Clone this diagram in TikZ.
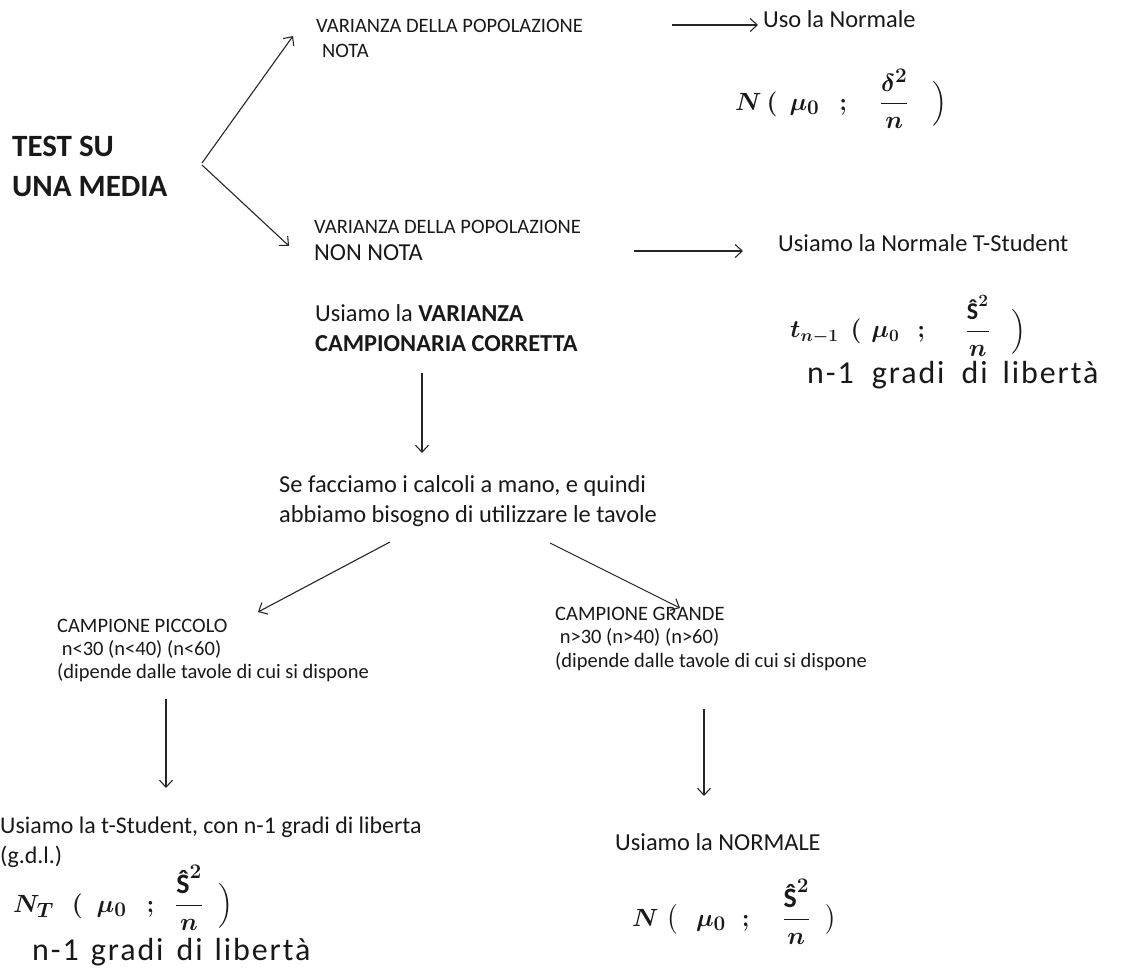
\documentclass[tikz,border=0pt]{standalone}
\usepackage{fontspec}
\setmainfont{Carlito}
\usepackage{amsmath}
\usetikzlibrary{arrows.meta}
\newcommand{\Shat}{\text{\bfseries Ŝ}}
\begin{document}
\begin{tikzpicture}[x=1pt,y=-1pt,
  every node/.style={inner sep=0pt, text=black!90},
  txt/.style={anchor=base west},
  bigt/.style={txt, font=\fontsize{31}{36}\selectfont\bfseries},
  capt/.style={txt, font=\fontsize{20.5}{24}\selectfont},
  bodyt/.style={txt, font=\fontsize{24.4}{28}\selectfont},
  hand/.style={anchor=west, font=\fontsize{28}{32}\selectfont\boldmath},
  handt/.style={txt, font=\fontsize{32}{36}\selectfont\addfontfeature{LetterSpace=6}},
  arr/.style={draw=black!85, line width=1.1pt, -{Straight Barb[length=7pt,width=13pt,line width=1.1pt]}}]
\useasboundingbox (0,0) rectangle (1124,973);

% left title
\node[bigt] (t1) at (12,157) {TEST SU};
\node[bigt] (t2) at (12,197) {UNA MEDIA};

% upper branch
\node[capt] (v1) at (316,33) {VARIANZA DELLA POPOLAZIONE};
\node[capt] (v1b) at (322,58) {NOTA};
\node[bodyt] (uso) at (763,28) {Uso la Normale};
\node[hand] (f1) at (735,99) {$N\hspace{5pt}(\hspace{12pt}\mu_0\hspace{20pt};\hspace{28pt}\dfrac{\delta^{2}}{n}\hspace{24pt}\Big)$};

% lower branch
\node[capt] (v2) at (314,234) {VARIANZA DELLA POPOLAZIONE};
\node[bodyt] (v2b) at (314,261) {NON NOTA};
\node[bodyt] (ts) at (778,252) {Usiamo la Normale T-Student};
\node[hand, font=\fontsize{24}{28}\selectfont\boldmath] (f2) at (790,326) {$t_{n-1}\hspace{12pt}(\hspace{10pt}\mu_0\hspace{18pt};\hspace{36pt}\dfrac{\Shat^{2}}{n}\hspace{22pt}\Big)$};
\node[handt] (g1) at (807,384) {n-1\hspace{18pt}gradi\hspace{17pt}di\hspace{15pt}libertà};

\node[bodyt] (u1) at (315,322) {Usiamo la \textbf{VARIANZA}};
\node[bodyt] (u2) at (315,352) {\textbf{CAMPIONARIA CORRETTA}};

\node[bodyt] (s1) at (279,492) {Se facciamo i calcoli a mano, e quindi};
\node[bodyt] (s2) at (279,522) {abbiamo bisogno di utilizzare le tavole};

% small sample
\node[capt] (p1) at (57,632) {CAMPIONE PICCOLO};
\node[capt] (p2) at (57,655) {\ n<30 (n<40) (n<60)};
\node[capt] (p3) at (57,678) {(dipende dalle tavole di cui si dispone};

% large sample
\node[capt] (q1) at (555,620) {CAMPIONE GRANDE};
\node[capt] (q2) at (555,643) {\ n>30 (n>40) (n>60)};
\node[capt] (q3) at (555,667) {(dipende dalle tavole di cui si dispone};

% results
\node[txt, font=\fontsize{23.9}{28}\selectfont] (r1) at (0,833) {Usiamo la t-Student, con n-1 gradi di liberta};
\node[txt, font=\fontsize{23.9}{28}\selectfont] (r2) at (0,863) {(g.d.l.)};
\node[hand] (f3) at (13,898) {$N_T\hspace{18pt}(\hspace{14pt}\mu_0\hspace{20pt};\hspace{16pt}\dfrac{\Shat^{2}}{n}\hspace{16pt}\Big)$};
\node[handt] (g2) at (32,960) {n-1\hspace{12pt}gradi\hspace{13pt}di\hspace{12pt}libertà};

\node[bodyt] (r3) at (615,850) {Usiamo la NORMALE};
\node[hand] (f4) at (632,912) {$N\hspace{8pt}\big(\hspace{18pt}\mu_0\hspace{16pt};\hspace{28pt}\dfrac{\Shat^{2}}{n}\hspace{15pt}\big)$};

% arrow end points
\coordinate (a1s) at (202,163); \coordinate (a1e) at (293,36);
\coordinate (a2s) at (202,165); \coordinate (a2e) at (289,246);
\coordinate (a3s) at (672,25);  \coordinate (a3e) at (758,25);
\coordinate (a4s) at (634,251); \coordinate (a4e) at (743,251);
\coordinate (a5s) at (422,373); \coordinate (a5e) at (422,453);
\coordinate (a6s) at (390,542); \coordinate (a6e) at (258,612);
\coordinate (a7s) at (550,543); \coordinate (a7e) at (680,608);
\coordinate (a8s) at (166,699); \coordinate (a8e) at (166,788);
\coordinate (a9s) at (704,709); \coordinate (a9e) at (704,796);

\draw[arr] (a1s) -- (a1e);
\draw[arr] (a2s) -- (a2e);
\draw[arr] (a3s) -- (a3e);
\draw[arr] (a4s) -- (a4e);
\draw[arr] (a5s) -- (a5e);
\draw[arr] (a6s) -- (a6e);
\draw[arr] (a7s) -- (a7e);
\draw[arr] (a8s) -- (a8e);
\draw[arr] (a9s) -- (a9e);
\end{tikzpicture}
\end{document}
